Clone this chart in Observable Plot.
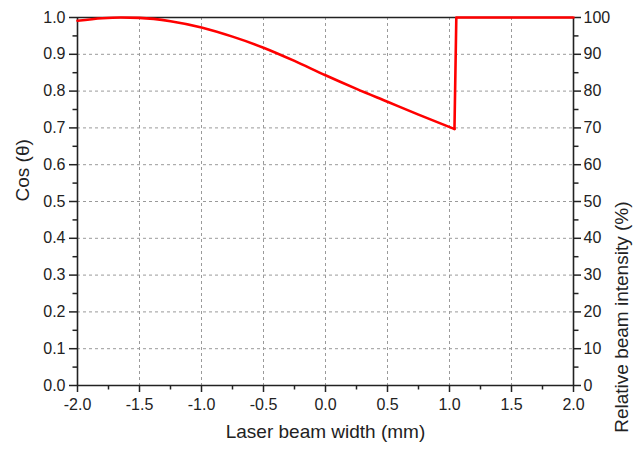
<!DOCTYPE html>
<html>
<head>
<meta charset="utf-8">
<script src="https://cdn.jsdelivr.net/npm/d3@7"></script>
<script src="https://cdn.jsdelivr.net/npm/@observablehq/plot@0.6"></script>
<style>
  html, body { margin: 0; padding: 0; background: #fff; }
  #chart svg { display: block; }
</style>
</head>
<body>
<div id="chart"></div>
<script>
// Smooth part of the curve (Laser beam width in mm, Cos(theta))
const beamX = [-2.0, -1.8, -1.65, -1.5, -1.25, -1.0, -0.75, -0.5, -0.25, 0.0, 0.25, 0.5, 0.75, 1.04];
const cosVals = [0.991, 0.998, 1.0, 0.999, 0.99, 0.973, 0.948, 0.918, 0.882, 0.843, 0.806, 0.771, 0.736, 0.697];
// Jump part
const jumpX = [1.04, 1.055, 2.0];
const jumpVals = [0.697, 1.0, 1.0];

const xTicks = [-2.0, -1.5, -1.0, -0.5, 0.0, 0.5, 1.0, 1.5, 2.0];
const xMinor = [-1.75, -1.25, -0.75, -0.25, 0.25, 0.75, 1.25, 1.75];
const yTicks = [0.0, 0.1, 0.2, 0.3, 0.4, 0.5, 0.6, 0.7, 0.8, 0.9, 1.0];
const yMinor = [0.05, 0.15, 0.25, 0.35, 0.45, 0.55, 0.65, 0.75, 0.85, 0.95];
const rightTickLabels = ["0", "10", "20", "30", "40", "50", "60", "70", "80", "90", "100"];

const smooth = beamX.map((x, i) => ({x, y: cosVals[i]}));
const jump = jumpX.map((x, i) => ({x, y: jumpVals[i]}));

const axisColor = "#222";
const font = "'Liberation Sans', Arial, sans-serif";

const chart = Plot.plot({
  width: 644,
  height: 449,
  marginLeft: 77,
  marginRight: 71,
  marginTop: 17,
  marginBottom: 64,
  x: {domain: [-2, 2]},
  y: {domain: [0, 1]},
  style: {fontFamily: font, fontSize: "16px", color: axisColor, background: "#fff"},
  marks: [
    Plot.gridX(xTicks.slice(1, -1), {stroke: "#9a9a9a", strokeOpacity: 1, strokeWidth: 1, strokeDasharray: "3,3"}),
    Plot.gridY(yTicks.slice(1, -1), {stroke: "#9a9a9a", strokeOpacity: 1, strokeWidth: 1, strokeDasharray: "3,3"}),
    // bottom axis
    Plot.axisX(xTicks, {anchor: "bottom", tickSize: 7, tickPadding: 6, strokeWidth: 1.5, fontSize: 16, tickFormat: d => d.toFixed(1), label: null}),
    Plot.axisX(xMinor, {anchor: "bottom", tickSize: 4.5, strokeWidth: 1.5, tickFormat: () => "", label: null}),
    // left axis
    Plot.axisY(yTicks, {anchor: "left", tickSize: 8, tickPadding: 4, strokeWidth: 1.5, fontSize: 16, tickFormat: d => d.toFixed(1), label: null}),
    Plot.axisY(yMinor, {anchor: "left", tickSize: 4.5, strokeWidth: 1.5, tickFormat: () => "", label: null}),
    // right axis (relative intensity %)
    Plot.axisY(yTicks, {anchor: "right", tickSize: 7, tickPadding: 3, strokeWidth: 1.5, fontSize: 16, tickFormat: d => rightTickLabels[Math.round(d * 10)], label: null}),
    Plot.axisY(yMinor, {anchor: "right", tickSize: 4.5, strokeWidth: 1.5, tickFormat: () => "", label: null}),
    // frame
    Plot.ruleX([-2, 2], {stroke: axisColor, strokeWidth: 1.6}),
    Plot.ruleY([0, 1], {stroke: axisColor, strokeWidth: 1.6}),
    // data
    Plot.line(smooth, {x: "x", y: "y", stroke: "#ff0000", strokeWidth: 2.6, curve: "monotone-x"}),
    Plot.line(jump, {x: "x", y: "y", stroke: "#ff0000", strokeWidth: 2.6}),
    // axis titles
    Plot.text(["Laser beam width (mm)"], {frameAnchor: "bottom", dy: 52, fontSize: 19, fill: axisColor}),
    Plot.text(["Cos (\u03b8)"], {frameAnchor: "left", dx: -55, rotate: -90, fontSize: 19, fill: axisColor}),
    Plot.text(["Relative beam intensity (%)"], {frameAnchor: "right", dx: 48, rotate: -90, fontSize: 19, fill: axisColor})
  ]
});
document.getElementById("chart").appendChild(chart);
</script>
</body>
</html>
